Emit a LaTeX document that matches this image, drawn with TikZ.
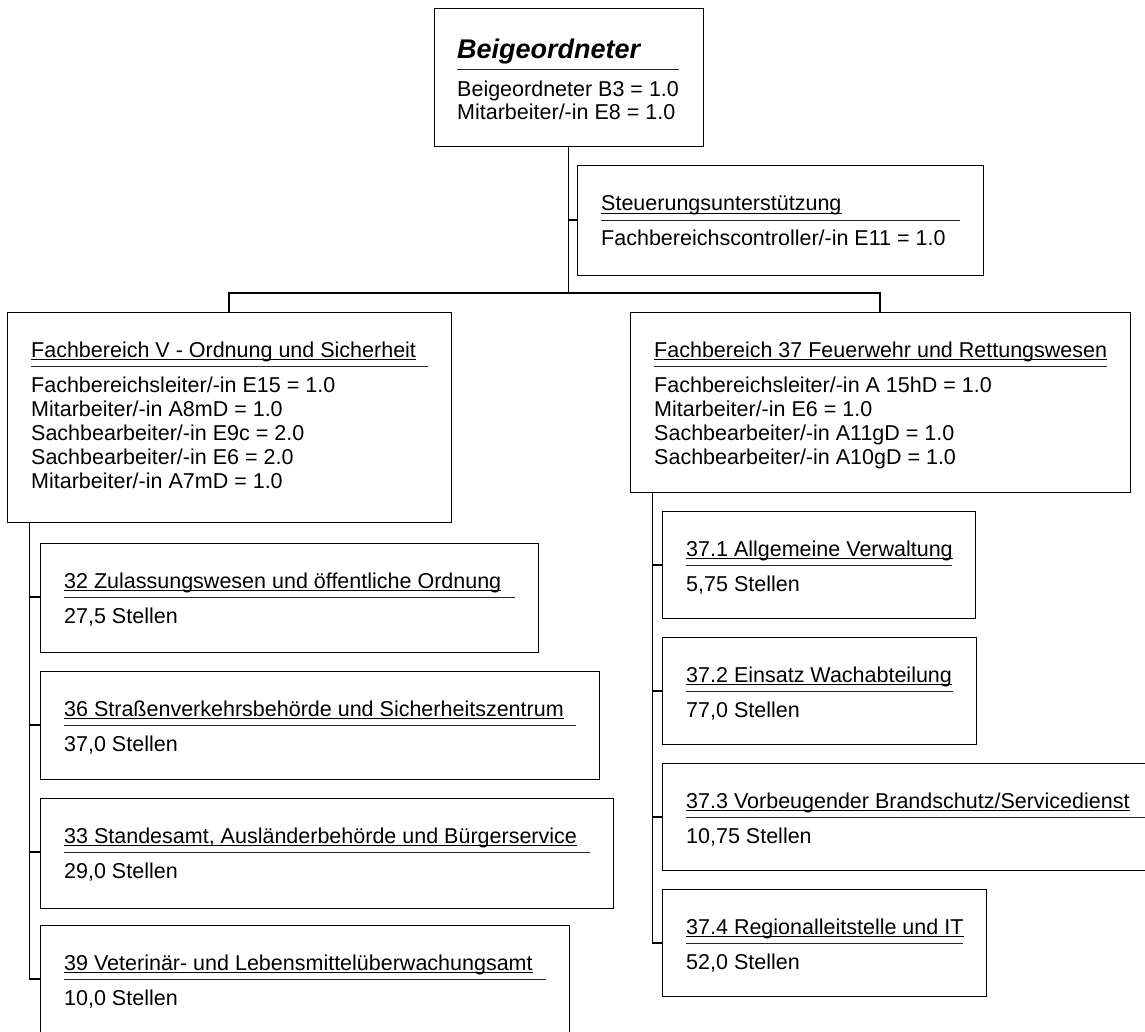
\documentclass[tikz,border=0pt]{standalone}
\usepackage{fontspec}
\setmainfont{Liberation Sans}
\tikzset{
  box/.style={draw=black, line width=1pt, inner sep=0pt},
  txt/.style={anchor=base west, inner sep=0pt, font=\fontsize{21.5}{24}\selectfont},
  head/.style={anchor=base west, inner sep=0pt, font=\fontsize{27}{30}\selectfont\bfseries\itshape},
  uline/.style={line width=1.3pt},
  sep/.style={line width=0.8pt, draw=black!85},
  conn/.style={line width=1.2pt},
}
% name, x1, y1, x2, y2, title
\newcommand\orgbox[6]{%
  \node[box, minimum width={(#4-#2)*1pt}, minimum height={(#5-#3)*1pt}] (#1) at ({(#2+#4)/2},{(#3+#5)/2}) {};
  \node[txt] (#1-t) at ({#2+24},{#3+45}) {#6};
  \draw[uline] ([yshift=-2.6pt]#1-t.base west) -- ([yshift=-2.6pt]#1-t.base east);
  \coordinate (#1-r) at (#2,{#3+54});
  \draw[sep] ({#2+23.5},{#3+54}) -- ({#4-23.5},{#3+54});
}
\begin{document}
\begin{tikzpicture}[x=1pt,y=-1pt]
\useasboundingbox (0,0) rectangle (1145,1032);
\clip (0,0) rectangle (1145,1032);

% top box
\node[box, minimum width=269pt, minimum height=138pt] (top) at (568.5,78) {};
\node[head] (top-t) at (457,59) {Beigeordneter};
\draw[sep] (457,69) -- (679,69);
\node[txt] (top-1) at (457,97) {Beigeordneter B3 = 1.0};
\node[txt] (top-2) at (457,120) {Mitarbeiter/-in E8 = 1.0};

% Steuerungsunterstuetzung
\orgbox{st}{577}{166}{983}{275}{Steuerungsunterstützung}
\node[txt] (st-1) at (601,246) {Fachbereichscontroller/-in E11 = 1.0};

% Fachbereich V
\orgbox{fbv}{7}{312}{451}{522}{Fachbereich V - Ordnung und Sicherheit}
\node[txt] (fbv-1) at (31,392) {Fachbereichsleiter/-in E15 = 1.0};
\node[txt] (fbv-2) at (31,416) {Mitarbeiter/-in A8mD = 1.0};
\node[txt] (fbv-3) at (31,440) {Sachbearbeiter/-in E9c = 2.0};
\node[txt] (fbv-4) at (31,464) {Sachbearbeiter/-in E6 = 2.0};
\node[txt] (fbv-5) at (31,488) {Mitarbeiter/-in A7mD = 1.0};

% Fachbereich 37
\orgbox{fb}{630}{312}{1130}{492}{Fachbereich 37 Feuerwehr und Rettungswesen}
\node[txt] (fb-1) at (654,392) {Fachbereichsleiter/-in A 15hD = 1.0};
\node[txt] (fb-2) at (654,416) {Mitarbeiter/-in E6 = 1.0};
\node[txt] (fb-3) at (654,440) {Sachbearbeiter/-in A11gD = 1.0};
\node[txt] (fb-4) at (654,464) {Sachbearbeiter/-in A10gD = 1.0};

% left units
\orgbox{u32}{40}{543}{538}{652}{32 Zulassungswesen und öffentliche Ordnung}
\node[txt] (u32-1) at (64,623) {27,5 Stellen};
\orgbox{u36}{40}{671}{599}{779}{36 Straßenverkehrsbehörde und Sicherheitszentrum}
\node[txt] (u36-1) at (64,751) {37,0 Stellen};
\orgbox{u33}{40}{798}{613}{908}{33 Standesamt, Ausländerbehörde und Bürgerservice}
\node[txt] (u33-1) at (64,878) {29,0 Stellen};
\orgbox{u39}{40}{925}{569}{1035}{39 Veterinär- und Lebensmittelüberwachungsamt}
\node[txt] (u39-1) at (64,1005) {10,0 Stellen};

% right units
\orgbox{r1}{662}{511}{975}{618}{37.1 Allgemeine Verwaltung}
\node[txt] (r1-1) at (686,591) {5,75 Stellen};
\orgbox{r2}{662}{637}{976}{744}{37.2 Einsatz Wachabteilung}
\node[txt] (r2-1) at (686,717) {77,0 Stellen};
\orgbox{r3}{662}{763}{1170}{870}{37.3 Vorbeugender Brandschutz/Servicedienst}
\node[txt] (r3-1) at (686,843) {10,75 Stellen};
\orgbox{r4}{662}{889}{986}{996}{37.4 Regionalleitstelle und IT}
\node[txt] (r4-1) at (686,969) {52,0 Stellen};

% connectors
\coordinate (bus) at (568.5,293);
\draw[conn] (top.south) -- (bus);
\draw[conn] (top.south |- st-r) -- (st-r);
\draw[conn] (fbv.north) |- (bus) -| (fb.north);

\coordinate (lv) at ([xshift=23pt]fbv.south west);
\draw[conn] (lv) |- (u39-r);
\foreach \u in {u32,u36,u33} \draw[conn] (lv |- \u-r) -- (\u-r);

\coordinate (rv) at ([xshift=23pt]fb.south west);
\draw[conn] (rv) |- (r4-r);
\foreach \u in {r1,r2,r3} \draw[conn] (rv |- \u-r) -- (\u-r);
\end{tikzpicture}
\end{document}
